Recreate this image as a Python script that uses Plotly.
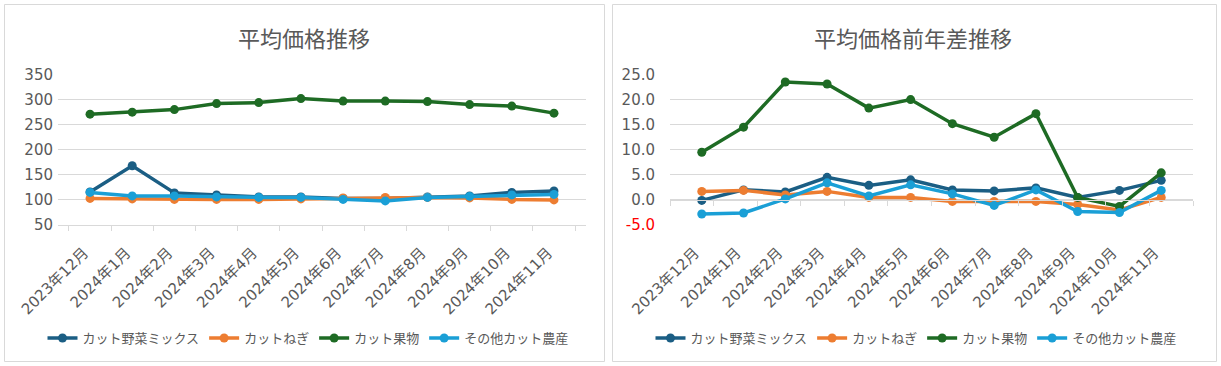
import plotly.graph_objects as go

categories = ["2023年12月", "2024年1月", "2024年2月", "2024年3月", "2024年4月", "2024年5月",
              "2024年6月", "2024年7月", "2024年8月", "2024年9月", "2024年10月", "2024年11月"]
series_names = ["カット野菜ミックス", "カットねぎ", "カット果物", "その他カット農産"]

# 平均価格
price_mix = [116, 168, 114, 110, 106, 106, 103, 103, 106, 108, 115, 118]
price_negi = [103, 102, 101, 101, 101, 102, 104, 105, 105, 104, 101, 100]
price_fruit = [271, 275, 280, 292, 294, 302, 297, 297, 296, 290, 287, 273]
price_other = [115, 108, 108, 106, 105, 105, 101, 98, 105, 107, 110, 111]

# 平均価格前年差
diff_mix = [-0.1, 2.0, 1.6, 4.5, 2.9, 4.0, 2.0, 1.8, 2.4, 0.5, 1.9, 3.9]
diff_negi = [1.7, 1.9, 1.0, 1.7, 0.5, 0.5, -0.3, -0.3, -0.3, -0.9, -2.0, 0.5]
diff_fruit = [9.5, 14.5, 23.5, 23.1, 18.3, 20.0, 15.2, 12.5, 17.2, 0.5, -1.3, 5.4]
diff_other = [-2.8, -2.6, 0.2, 3.4, 0.8, 3.0, 1.2, -1.1, 2.0, -2.3, -2.5, 1.9]

left_ticks = [50, 100, 150, 200, 250, 300, 350]
right_ticks = [-5, 0, 5, 10, 15, 20, 25]

colors = ["#1B5E84", "#ED7D31", "#1E6B24", "#1A9FD6"]
FONT = "Noto Sans CJK JP"
NUMFONT = "DejaVu Sans, Noto Sans CJK JP"
GREY = "#595959"
GRID = "#D9D9D9"

W, H = 1221, 366

def px(x):
    return x / W

def py(y):
    return 1 - y / H

fig = go.Figure()

for name, vals, col in zip(series_names, [price_mix, price_negi, price_fruit, price_other], colors):
    fig.add_trace(go.Scatter(x=categories, y=vals, name=name, mode="lines+markers",
                             line=dict(color=col, width=3.5), marker=dict(color=col, size=9),
                             xaxis="x", yaxis="y", legend="legend"))

for name, vals, col in zip(series_names, [diff_mix, diff_negi, diff_fruit, diff_other], colors):
    fig.add_trace(go.Scatter(x=categories, y=vals, name=name, mode="lines+markers",
                             line=dict(color=col, width=3.5), marker=dict(color=col, size=9),
                             xaxis="x2", yaxis="y2", legend="legend2"))

# empty trace to register the zero-crossing category axis of the right chart
fig.add_trace(go.Scatter(x=[], y=[], xaxis="x3", yaxis="y2", showlegend=False, hoverinfo="skip"))

def fmt_right(v):
    s = f"{v:.1f}"
    if v < 0:
        return f"<span style='color:#FF0000'>{s}</span>"
    return s

n = len(categories)
boundaries = [i - 0.5 for i in range(n + 1)]

left_dom_x = [px(58), px(586)]
right_dom_x = [px(670), px(1193)]
dom_y = [py(225), py(74.5)]

zero_pos = dom_y[0] + (dom_y[1] - dom_y[0]) * (0 - right_ticks[0]) / (right_ticks[-1] - right_ticks[0])

tickfont = dict(family=NUMFONT, size=15, color=GREY)

fig.update_layout(
    width=W, height=H,
    margin=dict(l=0, r=0, t=0, b=0, autoexpand=False),
    paper_bgcolor="white", plot_bgcolor="white",
    font=dict(family=FONT, color=GREY),
    xaxis=dict(domain=left_dom_x, anchor="y", type="category", tickangle=-45, automargin=False,
               showline=True, linecolor=GRID, linewidth=1, ticks="outside", tickson="boundaries",
               ticklen=5, tickcolor=GRID, showgrid=False, tickfont=tickfont, fixedrange=True,
               ticklabelstandoff=12, ticklabelshift=-6),
    yaxis=dict(domain=dom_y, anchor="x", range=[left_ticks[0], left_ticks[-1]], tickvals=left_ticks,
               showgrid=True, gridcolor=GRID, gridwidth=1, zeroline=False, showline=False, automargin=False,
               tickfont=tickfont, ticks="", ticklabelstandoff=4),
    xaxis2=dict(domain=right_dom_x, anchor="y2", type="category", tickangle=-45, automargin=False,
                showline=False, ticks="", showgrid=False, tickfont=tickfont,
                ticklabelstandoff=15, ticklabelshift=-7),
    yaxis2=dict(domain=dom_y, anchor="x2", range=[right_ticks[0], right_ticks[-1]], tickvals=right_ticks,
                ticktext=[fmt_right(v) for v in right_ticks], automargin=False,
                showgrid=True, gridcolor=GRID, gridwidth=1, zeroline=False, showline=False,
                tickfont=tickfont, ticks="", ticklabelstandoff=14),
    xaxis3=dict(domain=right_dom_x, overlaying="x2", anchor="free", position=zero_pos, automargin=False,
                type="linear", range=[-0.5, n - 0.5], tickvals=boundaries, showticklabels=False,
                showline=True, linecolor=GRID, linewidth=1, ticks="outside", ticklen=5,
                tickcolor=GRID, showgrid=False, zeroline=False),
    legend=dict(orientation="h", x=px(308), xanchor="center", y=py(338), yanchor="middle",
                font=dict(family=FONT, size=13, color=GREY), bgcolor="rgba(0,0,0,0)"),
    legend2=dict(orientation="h", x=px(916), xanchor="center", y=py(338), yanchor="middle",
                 font=dict(family=FONT, size=13, color=GREY), bgcolor="rgba(0,0,0,0)"),
    showlegend=True,
    annotations=[
        dict(text="平均価格推移", x=px(304), y=py(37), xref="paper", yref="paper",
             showarrow=False, xanchor="center", yanchor="middle",
             font=dict(family=FONT, size=22, color=GREY)),
        dict(text="平均価格前年差推移", x=px(913), y=py(37), xref="paper", yref="paper",
             showarrow=False, xanchor="center", yanchor="middle",
             font=dict(family=FONT, size=22, color=GREY)),
    ],
    shapes=[
        dict(type="rect", xref="paper", yref="paper", x0=px(4.5), x1=px(604.5), y0=py(361.5), y1=py(4.5),
             line=dict(color=GRID, width=1), layer="below"),
        dict(type="rect", xref="paper", yref="paper", x0=px(612.5), x1=px(1216.5), y0=py(361.5), y1=py(4.5),
             line=dict(color=GRID, width=1), layer="below"),
    ],
)

# remove the default 8px page margin so the figure fills the window exactly
fig.write_html("out.html", config={"displayModeBar": False},
               post_script="document.body.style.margin='0px';")
